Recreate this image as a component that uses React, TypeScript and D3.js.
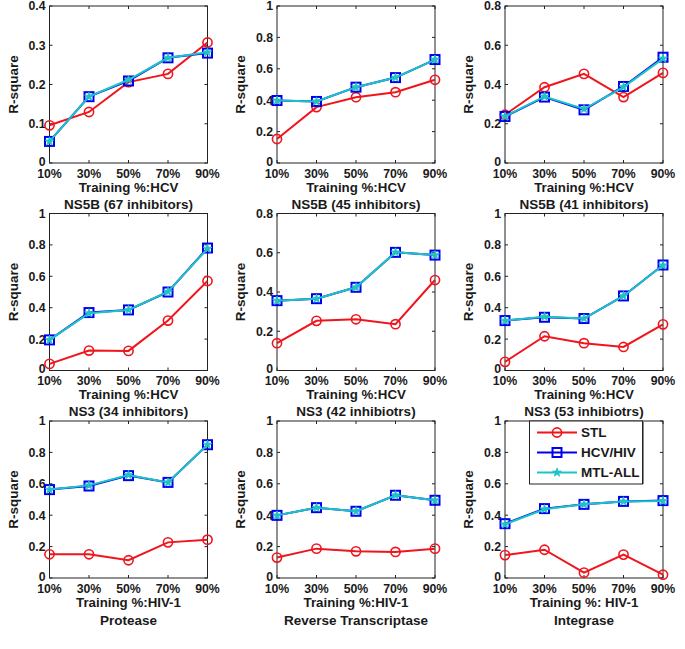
import React from "react";
import * as d3 from "d3";

const xValues = [10, 30, 50, 70, 90];
const xLabels = ["10%", "30%", "50%", "70%", "90%"];
const seriesNames = ["STL", "HCV/HIV", "MTL-ALL"];

// row 1
const p1Stl = [0.096, 0.130, 0.206, 0.227, 0.307];
const p1Hcv = [0.055, 0.169, 0.209, 0.268, 0.280];
const p1Mtl = [0.055, 0.169, 0.212, 0.268, 0.282];
const p2Stl = [0.153, 0.356, 0.419, 0.451, 0.530];
const p2Hcv = [0.398, 0.392, 0.483, 0.544, 0.659];
const p2Mtl = [0.398, 0.392, 0.483, 0.544, 0.659];
const p3Stl = [0.246, 0.386, 0.454, 0.336, 0.459];
const p3Hcv = [0.237, 0.336, 0.271, 0.390, 0.539];
const p3Mtl = [0.237, 0.339, 0.275, 0.387, 0.532];
// row 2
const p4Stl = [0.042, 0.127, 0.125, 0.318, 0.570];
const p4Hcv = [0.195, 0.369, 0.386, 0.500, 0.780];
const p4Mtl = [0.195, 0.365, 0.386, 0.502, 0.776];
const p5Stl = [0.139, 0.253, 0.261, 0.236, 0.461];
const p5Hcv = [0.356, 0.366, 0.424, 0.602, 0.588];
const p5Mtl = [0.356, 0.366, 0.424, 0.602, 0.588];
const p6Stl = [0.055, 0.218, 0.174, 0.150, 0.294];
const p6Hcv = [0.318, 0.339, 0.331, 0.475, 0.672];
const p6Mtl = [0.318, 0.343, 0.331, 0.475, 0.670];
// row 3
const p7Stl = [0.151, 0.151, 0.113, 0.227, 0.244];
const p7Hcv = [0.563, 0.586, 0.652, 0.609, 0.849];
const p7Mtl = [0.563, 0.590, 0.656, 0.609, 0.849];
const p8Stl = [0.130, 0.187, 0.170, 0.166, 0.187];
const p8Hcv = [0.399, 0.448, 0.425, 0.527, 0.495];
const p8Mtl = [0.399, 0.448, 0.425, 0.527, 0.495];
const p9Stl = [0.146, 0.180, 0.034, 0.149, 0.021];
const p9Hcv = [0.346, 0.442, 0.469, 0.488, 0.493];
const p9Mtl = [0.342, 0.438, 0.469, 0.488, 0.491];

const yMaxes = [0.4, 1, 0.8, 1, 0.8, 1, 1, 1, 1];
const yStepList = [0.1, 0.2, 0.2, 0.2, 0.2, 0.2, 0.2, 0.2, 0.2];
const panelTitles = ["", "", "", "NS5B (67 inhibitors)", "NS5B (45 inhibitors)", "NS5B (41 inhibitors)", "NS3 (34 inhibitors)", "NS3 (42 inhibiotrs)", "NS3 (53 inhibiotrs)"];
const xAxisLabels = ["Training %:HCV", "Training %:HCV", "Training %:HCV", "Training %:HCV", "Training %:HCV", "Training %:HCV", "Training %:HIV-1", "Training %:HIV-1", "Training %: HIV-1"];
const columnCaptions = ["Protease", "Reverse Transcriptase", "Integrase"];

const panelData = [
  [p1Stl, p1Hcv, p1Mtl], [p2Stl, p2Hcv, p2Mtl], [p3Stl, p3Hcv, p3Mtl],
  [p4Stl, p4Hcv, p4Mtl], [p5Stl, p5Hcv, p5Mtl], [p6Stl, p6Hcv, p6Mtl],
  [p7Stl, p7Hcv, p7Mtl], [p8Stl, p8Hcv, p8Mtl], [p9Stl, p9Hcv, p9Mtl],
];

const colLefts = [49.5, 277, 505];
const rowTops = [6, 213.5, 421];
const PW = 158;
const PH = 157;

const RED = "#f0141c";
const BLUE = "#0000f0";
const CYAN = "#1ec3c6";
const FONT = "'Liberation Sans', Arial, sans-serif";
const TXT = "#1a1a1a";

const starPath = d3.symbol().type(d3.symbolStar).size(24)() as string;

function Marker({ kind, x, y }: { kind: number; x: number; y: number }) {
  if (kind === 0) return <circle cx={x} cy={y} r={4.6} fill="none" stroke={RED} strokeWidth={1.6} />;
  if (kind === 1) return <rect x={x - 4.5} y={y - 4.5} width={9} height={9} fill="none" stroke={BLUE} strokeWidth={2} />;
  return <path d={starPath} transform={`translate(${x},${y})`} fill={CYAN} stroke={CYAN} strokeWidth={0.8} />;
}

function Panel({ idx }: { idx: number }) {
  const col = idx % 3;
  const row = Math.floor(idx / 3);
  const left = colLefts[col];
  const top = rowTops[row];
  const x = d3.scaleLinear().domain([10, 90]).range([left, left + PW]);
  const y = d3.scaleLinear().domain([0, yMaxes[idx]]).range([top + PH, top]);
  const yTicks = d3.range(0, yMaxes[idx] + 1e-9, yStepList[idx]);
  const fmt = (v: number) => {
    const r = Math.round(v * 10) / 10;
    return r === 0 ? "0" : r === 1 ? "1" : String(r);
  };
  const colors = [RED, BLUE, CYAN];
  const line = d3.line<number>().x((_, i) => x(xValues[i])).y((v) => y(v));
  const tl = 3;
  return (
    <g>
      {xValues.map((v, i) => (
        <g key={"xt" + i}>
          <line x1={x(v)} x2={x(v)} y1={top + PH} y2={top + PH - tl} stroke="#222" strokeWidth={1} />
          <line x1={x(v)} x2={x(v)} y1={top} y2={top + tl} stroke="#222" strokeWidth={1} />
          <text x={x(v)} y={top + PH + 14.5} textAnchor="middle" fontFamily={FONT} fontWeight="bold" fontSize={12.3} fill={TXT}>{xLabels[i]}</text>
        </g>
      ))}
      {yTicks.map((v, i) => (
        <g key={"yt" + i}>
          <line x1={left} x2={left + tl} y1={y(v)} y2={y(v)} stroke="#222" strokeWidth={1} />
          <line x1={left + PW} x2={left + PW - tl} y1={y(v)} y2={y(v)} stroke="#222" strokeWidth={1} />
          <text x={left - 4} y={y(v) - (i === 0 ? 1.5 : 0)} dy="0.36em" textAnchor="end" fontFamily={FONT} fontWeight="bold" fontSize={12.3} fill={TXT}>{fmt(v)}</text>
        </g>
      ))}
      <rect x={left} y={top} width={PW} height={PH} fill="none" stroke="#222" strokeWidth={1} />
      {panelData[idx].map((vals, s) => (
        <g key={"s" + s}>
          <path d={line(vals) as string} fill="none" stroke={colors[s]} strokeWidth={2} />
          {vals.map((v, i) => (
            <Marker key={i} kind={s} x={x(xValues[i])} y={y(v)} />
          ))}
        </g>
      ))}
      <text x={left + PW / 2} y={top + PH + 28.5} textAnchor="middle" fontFamily={FONT} fontWeight="bold" fontSize={13.3} fill={TXT}>{xAxisLabels[idx]}</text>
      <text transform={`translate(${left - 32},${top + PH / 2}) rotate(-90)`} textAnchor="middle" fontFamily={FONT} fontWeight="bold" fontSize={13.5} fill={TXT}>R-square</text>
      {panelTitles[idx] && (
        <text x={left + PW / 2} y={top - 5} textAnchor="middle" fontFamily={FONT} fontWeight="bold" fontSize={13.5} fill={TXT}>{panelTitles[idx]}</text>
      )}
      {row === 2 && (
        <text x={left + PW / 2} y={top + PH + 46.5} textAnchor="middle" fontFamily={FONT} fontWeight="bold" fontSize={13.5} fill={TXT}>{columnCaptions[col]}</text>
      )}
    </g>
  );
}

function Legend() {
  const lx = 529.5, ly = 421, lw = 113, lh = 63;
  const rows = [432.5, 452.5, 472.5];
  const colors = [RED, BLUE, CYAN];
  return (
    <g>
      <rect x={lx} y={ly} width={lw} height={lh} fill="#fff" stroke="#222" strokeWidth={1} />
      <line x1={lx + lw + 1} x2={lx + lw + 1} y1={ly + 1} y2={ly + lh} stroke="#888" strokeWidth={1} />
      {seriesNames.map((n, i) => (
        <g key={n}>
          <line x1={537} x2={577} y1={rows[i]} y2={rows[i]} stroke={colors[i]} strokeWidth={2} />
          <Marker kind={i} x={557} y={rows[i]} />
          <text x={581} y={rows[i]} dy="0.36em" fontFamily={FONT} fontWeight="bold" fontSize={13.5} fill={TXT}>{n}</text>
        </g>
      ))}
    </g>
  );
}

export default function App() {
  return (
    <svg width={685} height={649} style={{ position: "absolute", left: 0, top: 0, background: "#fff" }}>
      <rect x={0} y={0} width={685} height={649} fill="#fff" />
      {d3.range(9).map((i) => (
        <Panel key={i} idx={i} />
      ))}
      <Legend />
    </svg>
  );
}
